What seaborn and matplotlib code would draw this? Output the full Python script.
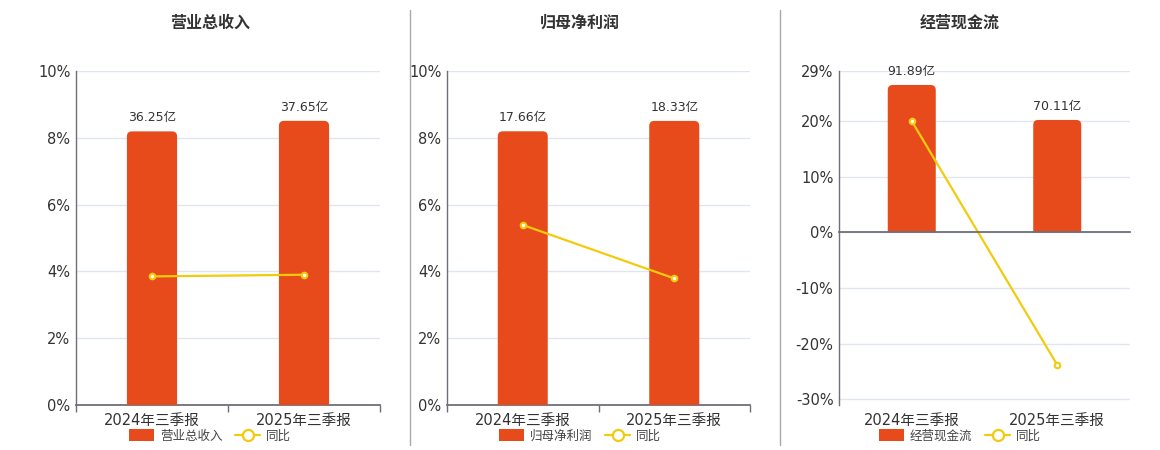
import pandas as pd
import seaborn as sns
import matplotlib.pyplot as plt
from matplotlib.lines import Line2D
from matplotlib.patches import Patch, PathPatch
from matplotlib.path import Path
from matplotlib.ticker import FixedLocator

periods = ['2024年三季报', '2025年三季报']
titles = ['营业总收入', '归母净利润', '经营现金流']
bar_values = [[36.25, 37.65], [17.66, 18.33], [91.89, 70.11]]
yoy_values = [[3.85, 3.90], [5.39, 3.79], [20.0, -23.8]]
pct_ticks = [[0, 2, 4, 6, 8, 10], [0, 2, 4, 6, 8, 10], [-30, -20, -10, 0, 10, 20, 29]]
pct_lims = [(0, 10), (0, 10), (-31, 29)]
bar_lims = [(0, 44.25), (0, 21.55), (-107.5, 100.6)]

BAR = '#E84B1B'
LINE = '#F2CB0E'
AXIS = '#6E7079'
GRID = '#E0E6F1'
TXT = '#333333'

sns.set_theme(style='white')
plt.rcParams['font.family'] = ['DejaVu Sans', 'Noto Sans CJK SC']

fig = plt.figure(figsize=(11.6, 4.5), dpi=100)
W, H = 1160, 450
boxes = [(76, 380), (447, 750), (839, 1130)]
centers = [210, 580, 960]


def round_tops(ax, radius_px=5):
    # swap seaborn's rectangles for bars with rounded top corners
    (xa, xb), (ya, yb) = ax.get_xlim(), ax.get_ylim()
    bbox = ax.get_window_extent()
    rx = radius_px * (xb - xa) / bbox.width
    ry = radius_px * (yb - ya) / bbox.height
    for p in list(ax.patches):
        x0, y0 = p.get_x(), p.get_y()
        x1, y1 = x0 + p.get_width(), y0 + p.get_height()
        verts = [(x0, y0), (x1, y0), (x1, y1 - ry), (x1, y1), (x1 - rx, y1),
                 (x0 + rx, y1), (x0, y1), (x0, y1 - ry), (x0, y0)]
        codes = [Path.MOVETO, Path.LINETO, Path.LINETO, Path.CURVE3, Path.CURVE3,
                 Path.LINETO, Path.CURVE3, Path.CURVE3, Path.CLOSEPOLY]
        ax.add_patch(PathPatch(Path(verts, codes), facecolor=p.get_facecolor(),
                               edgecolor='none', zorder=p.get_zorder()))
        p.remove()


for i in range(3):
    x0, x1 = boxes[i]
    ax = fig.add_axes([x0 / W, 45 / H, (x1 - x0) / W, 334 / H])
    axb = ax.twinx()
    axl = ax.twinx()

    df = pd.DataFrame({'period': periods, 'value': bar_values[i], 'yoy': yoy_values[i]})

    sns.barplot(data=df, x='period', y='value', ax=axb, color=BAR, width=0.33,
                saturation=1, edgecolor='none')
    sns.pointplot(data=df, x='period', y='yoy', ax=axl, color=LINE, markers='o',
                  markersize=4, linewidth=1.6, mfc='white', mec=LINE, mew=1.5)

    for a in (ax, axb, axl):
        a.set_xlim(-0.5, 1.5)
        a.set_xlabel('')
        a.set_ylabel('')
    ax.set_ylim(*pct_lims[i])
    axl.set_ylim(*pct_lims[i])
    axb.set_ylim(*bar_lims[i])
    round_tops(axb)

    # percent axis + grid
    ax.set_yticks(pct_ticks[i])
    ax.set_yticklabels([f'{t}%' for t in pct_ticks[i]], fontsize=10.5, color=TXT)
    ax.yaxis.grid(True, color=GRID, linewidth=1)
    ax.tick_params(axis='y', length=0, pad=4)
    ax.set_xticks([0, 1])
    ax.set_xticklabels(periods, fontsize=10.5, color=TXT)
    ax.tick_params(axis='x', length=0, pad=6)
    for s in ['top', 'right']:
        ax.spines[s].set_visible(False)
    ax.spines['left'].set_color(AXIS)
    ax.spines['left'].set_linewidth(1)

    for a in (axb, axl):
        a.set_yticks([])
        a.tick_params(axis='x', labelbottom=False, length=0)
        for s in a.spines.values():
            s.set_visible(False)

    # category boundary ticks on the zero line
    if pct_lims[i][0] < 0:
        ax.spines['bottom'].set_visible(False)
        zax = axl
        zax.spines['bottom'].set_visible(True)
        zax.spines['bottom'].set_position(('data', 0))
    else:
        zax = ax
    zax.spines['bottom'].set_color(AXIS)
    zax.spines['bottom'].set_linewidth(1.3)
    zax.xaxis.set_minor_locator(FixedLocator([-0.5, 0.5, 1.5]))
    zax.tick_params(axis='x', which='minor', bottom=True, length=5, width=1, color=AXIS)

    # bar labels
    for j, v in enumerate(bar_values[i]):
        axb.annotate(f'{v:.2f}亿', (j, v), xytext=(0, 5), textcoords='offset points',
                     ha='center', va='bottom', fontsize=9, color=TXT)

    fig.text(centers[i] / W, 1 - 23 / H, titles[i], ha='center', va='center',
             fontsize=11.5, fontweight='bold', color=TXT)

    handles = [Patch(facecolor=BAR, edgecolor='none'),
               Line2D([0], [0], color=LINE, lw=1.6, marker='o', markersize=8,
                      mfc='white', mec=LINE, mew=1.6)]
    fig.legend(handles, [titles[i], '同比'], loc='center', ncol=2,
               bbox_to_anchor=(centers[i] / W, 1 - 436 / H), frameon=False,
               fontsize=9, labelcolor='#444444', handlelength=2.0, handleheight=1.1,
               columnspacing=1.0, handletextpad=0.5)

for xs in (410, 780):
    fig.add_artist(Line2D([xs / W, xs / W], [1 - 445 / H, 1 - 10 / H],
                          color='#AAAAAA', lw=1, transform=fig.transFigure))

fig.savefig('out.png', dpi=100, facecolor='white')
